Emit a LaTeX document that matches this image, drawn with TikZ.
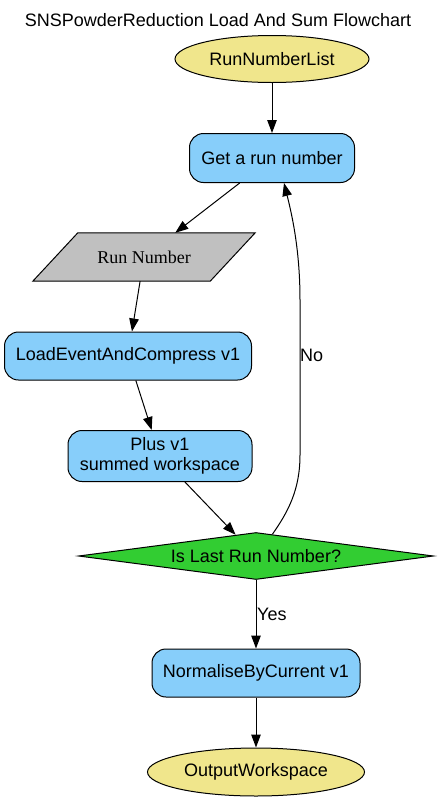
\documentclass[tikz,border=0pt]{standalone}
\usepackage{fontspec}
\setmainfont{Liberation Sans}
\newfontfamily\serifface{Liberation Serif}
\usetikzlibrary{shapes.geometric,arrows.meta,backgrounds}
\definecolor{procblue}{HTML}{87CEFA}
\definecolor{khakiy}{HTML}{F0E68C}
\definecolor{limeg}{HTML}{32CD32}
\definecolor{silverg}{HTML}{C0C0C0}
\begin{document}
\begin{tikzpicture}[x=1pt,y=-1pt, font=\fontsize{18}{20}\selectfont,
  proc/.style={draw=black, line width=1pt, fill=procblue, rounded corners=14pt, inner sep=0pt, align=center},
  io/.style={ellipse, draw=black, line width=1pt, fill=khakiy, inner sep=0pt},
  flow/.style={-{Triangle[length=13pt,width=9.5pt]}, line width=1pt},
  lbl/.style={inner sep=0pt, anchor=west}]
\useasboundingbox (0,0) rectangle (439,801);
\node (title) at (218,20) {SNSPowderReduction Load And Sum Flowchart};
\node[io, minimum width=194pt, minimum height=47pt] (rnl) at (272,59) {RunNumberList};
\node[proc, minimum width=165pt, minimum height=49pt] (get) at (272,158) {Get a run number};
\node[inner sep=0pt, minimum width=177pt, minimum height=48pt, font=\fontsize{18}{20}\selectfont\serifface] (rn) at (144,257) {Run Number};
\begin{scope}[on background layer]
\draw[fill=silverg, line width=1pt] ([xshift=-22.5pt]rn.south west) -- ([xshift=-22.5pt]rn.south east) -- ([xshift=22.5pt]rn.north east) -- ([xshift=22.5pt]rn.north west) -- cycle;
\end{scope}
\node[proc, minimum width=247pt, minimum height=48pt] (load) at (128,356) {LoadEventAndCompress v1};
\node[proc, minimum width=184pt, minimum height=51pt] (plus) at (160,456) {Plus v1\\summed workspace};
\node[diamond, aspect=7.5, draw=black, fill=limeg, line width=1pt, inner sep=0pt, minimum width=355pt, minimum height=47pt] (dec) at (256,556) {Is Last Run Number?};
\node[proc, minimum width=208pt, minimum height=48pt] (norm) at (256,673) {NormaliseByCurrent v1};
\node[io, minimum width=217pt, minimum height=48pt] (out) at (256,772) {OutputWorkspace};
\draw[flow] (rnl) -- (get);
\draw[flow] (get) -- (rn);
\draw[flow] (rn) -- (load);
\draw[flow] (load) -- (plus);
\draw[flow] (plus) -- (dec);
\draw[flow] (dec.53) .. controls (288,512) and (300,490) .. (300,455) -- (300,300) .. controls (300,250) and (292,215) .. ([xshift=12pt]get.south);
\draw[flow] (dec) -- (norm);
\draw[flow] (norm) -- (out);
\node[lbl] (no) at (300,355) {No};
\node[lbl] (yes) at (257,614) {Yes};
\end{tikzpicture}
\end{document}
